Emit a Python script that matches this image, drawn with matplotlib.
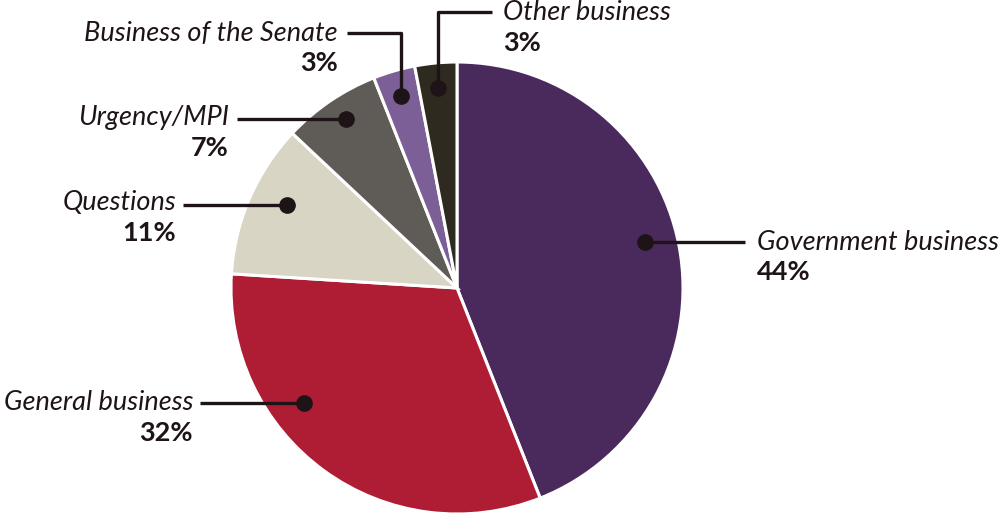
import matplotlib
matplotlib.use("Agg")
import matplotlib.pyplot as plt

# Sitting time by business category (%)
categories = ["Government business", "General business", "Questions",
              "Urgency/MPI", "Business of the Senate", "Other business"]
shares = [44, 32, 11, 7, 3, 3]
colors = ["#4a2a5c", "#ae1d33", "#d8d5c5", "#5f5c57", "#7b5f96", "#2f2a20"]

INK = "#1e1418"
W, H = 1000, 518
CX, CY, R = 457, 230, 226   # pie centre / radius in pixel units (y up)

# label layout: dot, leader path (after dot), text anchor, alignment
layout = {
    "Government business":    dict(path=[(645, 242), (745, 242)], txt=(757, 242), ha="left"),
    "General business":       dict(path=[(304, 403), (200, 403)], txt=(193, 403), ha="right"),
    "Questions":              dict(path=[(287, 205), (183, 205)], txt=(176, 203), ha="right"),
    "Urgency/MPI":            dict(path=[(346, 119), (237, 119)], txt=(229, 118), ha="right"),
    "Business of the Senate": dict(path=[(401, 96), (401, 33), (347, 33)], txt=(338, 33), ha="right"),
    "Other business":         dict(path=[(438, 88), (438, 12), (492, 12)], txt=(503, 13), ha="left"),
}

fig = plt.figure(figsize=(W / 100, H / 100), dpi=100)
ax = fig.add_axes([0, 0, 1, 1])

ax.pie(shares, colors=colors, startangle=90, counterclock=False,
       center=(CX, CY), radius=R,
       wedgeprops=dict(edgecolor="white", linewidth=2.2))

for name, pct in zip(categories, shares):
    spec = layout[name]
    xs = [p[0] for p in spec["path"]]
    ys = [H - p[1] for p in spec["path"]]
    ax.plot(xs, ys, color=INK, lw=2.4, solid_capstyle="butt", zorder=5)
    ax.plot(xs[0], ys[0], "o", color=INK, ms=11, zorder=6)
    tx, ty = spec["txt"]
    ax.text(tx, H - ty, name, ha=spec["ha"], va="center", fontsize=19.5,
            fontstyle="italic", family="Lato", color=INK)
    ax.text(tx, H - ty - 30, f"{pct}%", ha=spec["ha"], va="center", fontsize=19.5,
            fontweight="bold", family="Lato", color=INK)

ax.set_xlim(0, W)
ax.set_ylim(0, H)
ax.set_aspect("equal")
ax.axis("off")

fig.savefig("out.png", dpi=100)
